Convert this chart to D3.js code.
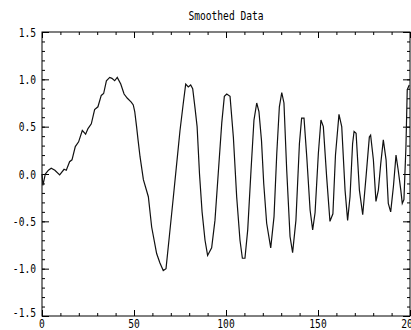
<!DOCTYPE html>
<html>
<head>
<meta charset="utf-8">
<script src="https://cdn.jsdelivr.net/npm/d3@7"></script>
<style>
  body { margin: 0; background: #fff; }
  text { font-family: "DejaVu Sans Mono", "Liberation Mono", monospace; font-size: 13px; fill: #000; }
</style>
</head>
<body>
<div id="chart"></div>
<script>
// values
var sampleX = [0, 0.5, 1.8, 3.5, 5, 7, 9.6, 12, 13.2, 15, 16.3, 18.1, 19.9, 21.9, 23.7, 25, 26.8, 28.6, 30.4, 32.2,
  33.5, 35, 36.8, 38, 39.5, 40.9, 42.8, 44.6, 46.4, 48.5, 49.6, 50.4, 51.4, 52.2, 53.3, 55.1, 57.8, 59.6, 62.3, 64.1,
  65.9, 67.4, 69.2, 71.4, 73.2, 75, 76.8, 78.1, 79.5, 80.8, 81.9, 83.2, 84.3, 85.6, 87, 88.6, 90, 92.2, 94, 95.8,
  97.7, 99.1, 100.4, 102.2, 104, 105.8, 107.6, 108.9, 110.3, 111.8, 113.6, 115.2, 116.7, 117.9, 119.3, 120.5, 122.1, 124.3, 126.1, 127.6,
  129, 130.3, 131.5, 133, 134.8, 136.2, 138, 139.9, 141.1, 142.4, 143.9, 145.7, 147.1, 148.4, 150.2, 151.6, 152.9, 154.7, 156.5, 158.1,
  159.5, 161.4, 162.9, 164.7, 166.1, 167.4, 168.8, 169.6, 170.7, 172.5, 174.3, 176.1, 177.9, 178.6, 180.1, 181.5, 182.8, 184.1, 185.5, 187,
  188.2, 189.5, 191, 192.4, 193.6, 195, 195.8, 196.7, 197.8, 198.5, 199.6];
var sampleY = [0.0, -0.12, 0.0, 0.04, 0.06, 0.04, -0.01, 0.05, 0.04, 0.13, 0.15, 0.29, 0.34, 0.46, 0.42, 0.48, 0.53, 0.68, 0.71, 0.83,
  0.85, 0.985, 1.02, 1.01, 0.985, 1.02, 0.95, 0.845, 0.80, 0.76, 0.73, 0.66, 0.50, 0.36, 0.18, -0.06, -0.24, -0.56, -0.84, -0.94,
  -1.02, -1.0, -0.66, -0.24, 0.11, 0.46, 0.75, 0.95, 0.92, 0.94, 0.90, 0.69, 0.50, 0.0, -0.40, -0.70, -0.86, -0.78, -0.49, 0.01,
  0.54, 0.82, 0.845, 0.82, 0.39, -0.24, -0.70, -0.89, -0.89, -0.59, 0.04, 0.57, 0.75, 0.66, 0.35, -0.10, -0.52, -0.78, -0.45, 0.22,
  0.71, 0.86, 0.75, 0.04, -0.66, -0.83, -0.49, 0.32, 0.59, 0.59, 0.18, -0.38, -0.59, -0.41, 0.22, 0.57, 0.50, -0.03, -0.50, -0.42,
  0.20, 0.63, 0.50, -0.17, -0.49, -0.24, 0.32, 0.45, 0.43, -0.17, -0.43, -0.03, 0.39, 0.41, 0.15, -0.29, -0.17, 0.11, 0.36, 0.15,
  -0.31, -0.40, -0.13, 0.20, 0.04, -0.17, -0.31, -0.27, 0.29, 0.89, 0.94];

var title = 'Smoothed Data';
var xTicks = [0, 50, 100, 150, 200];
var yTicks = [-1.5, -1.0, -0.5, 0.0, 0.5, 1.0, 1.5];

var margin = { left: 42, right: 1, top: 32, bottom: 14 };
var width = 411, height = 330;
var chartWidth = width - margin.left - margin.right;
var chartHeight = height - margin.top - margin.bottom;

var data = sampleX.map(function (x, i) { return { x: x, y: sampleY[i] }; });

// Scales
var scaleX = d3.scaleLinear().domain([0, 200]).range([0, chartWidth]);
var scaleY = d3.scaleLinear().domain([-1.5, 1.5]).range([chartHeight, 0]);

var svg = d3.select('#chart')
  .append('svg')
  .attr('width', width)
  .attr('height', height);

var group = svg.append('g')
  .attr('transform', 'translate(' + margin.left + ',' + margin.top + ')');

// Frame
group.append('rect')
  .attr('x', 0).attr('y', 0)
  .attr('width', chartWidth).attr('height', chartHeight)
  .attr('fill', 'none').attr('stroke', '#000').attr('stroke-width', 1);

// Tick marks pointing inward, on all four sides
function ticks(axis, values, size) {
  return axis.tickValues(values).tickSize(size).tickFormat('');
}
var minorX = d3.range(0, 201, 10);
var minorY = d3.range(-15, 16).map(function (d) { return d / 10; });

[[d3.axisBottom, 'translate(0,' + chartHeight + ')', -3, -6],
 [d3.axisTop, 'translate(0,0)', -3, -6]].forEach(function (a) {
  group.append('g').attr('transform', a[1]).call(ticks(a[0](scaleX), minorX, a[2]));
  group.append('g').attr('transform', a[1]).call(ticks(a[0](scaleX), xTicks, a[3]));
});
[[d3.axisLeft, 'translate(0,0)', -3, -7],
 [d3.axisRight, 'translate(' + chartWidth + ',0)', -3, -7]].forEach(function (a) {
  group.append('g').attr('transform', a[1]).call(ticks(a[0](scaleY), minorY, a[2]));
  group.append('g').attr('transform', a[1]).call(ticks(a[0](scaleY), yTicks, a[3]));
});
group.selectAll('.domain').remove();
group.selectAll('.tick line').attr('stroke', '#000');

// Labels (narrow monospace look)
var squeeze = ' scale(0.74,1)';
group.selectAll('.xlab')
  .data(xTicks).enter().append('text')
  .attr('text-anchor', 'middle')
  .attr('transform', function (d) { return 'translate(' + scaleX(d) + ',' + (chartHeight + 12) + ')' + squeeze; })
  .text(function (d) { return d; });

group.selectAll('.ylab')
  .data(yTicks).enter().append('text')
  .attr('text-anchor', 'end')
  .attr('transform', function (d) { return 'translate(-6,' + (Math.min(scaleY(d) + 4.5, chartHeight + 1)) + ')' + squeeze; })
  .text(function (d) { return d.toFixed(1); });

svg.append('text')
  .attr('text-anchor', 'middle')
  .attr('transform', 'translate(' + (margin.left + chartWidth / 2) + ',20)' + squeeze)
  .text(title);

// Line
var lineFunc = d3.line()
  .x(function (d) { return scaleX(d.x); })
  .y(function (d) { return scaleY(d.y); });

group.append('path')
  .attr('d', lineFunc(data))
  .attr('stroke', '#111')
  .attr('stroke-width', 1.2)
  .attr('fill', 'none');
</script>
</body>
</html>
